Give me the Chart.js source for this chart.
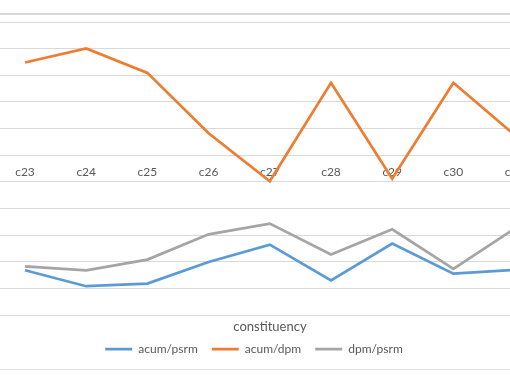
<!DOCTYPE html>
<html>
<head>
<meta charset="utf-8">
<script src="https://cdn.jsdelivr.net/npm/chart.js@4"></script>
<style>
  html, body { margin: 0; padding: 0; background: #ffffff; overflow: hidden; }
  #wrap { position: relative; width: 510px; height: 382px; overflow: hidden; background: #fff; }
  #frame { position: absolute; left: 0; top: 13px; width: 510px; height: 354px;
           border-top: 2px solid #d9d9d9; border-bottom: 1px solid #e3e3e3; }
  #c { position: absolute; left: -32px; top: 0; }
</style>
</head>
<body>
<div id="wrap">
  <div id="frame"></div>
  <canvas id="c" width="572" height="382"></canvas>
</div>
<script>
const categories = ['c23', 'c24', 'c25', 'c26', 'c27', 'c28', 'c29', 'c30', 'c31'];
const acumPsrm = [-4.32, -4.92, -4.82, -4.01, -3.36, -4.70, -3.32, -4.45, -4.31];
const acumDpm  = [3.48, 4.01, 3.09, 0.82, -0.98, 2.72, -0.88, 2.72, 0.76];
const dpmPsrm  = [-4.17, -4.32, -3.92, -2.97, -2.57, -3.73, -2.78, -4.27, -2.76];
const seriesNames = ['acum/psrm', 'acum/dpm', 'dpm/psrm'];
const seriesColors = ['#5B9BD5', '#ED7D31', '#A5A5A5'];
const xTitle = 'constituency';

const toPoints = vals => vals.map((v, i) => ({ x: i, y: v }));
const allSeries = [acumPsrm, acumDpm, dpmPsrm];

const datasets = allSeries.map((vals, k) => ({
  label: seriesNames[k],
  data: toPoints(vals),
  borderColor: seriesColors[k],
  backgroundColor: seriesColors[k],
  borderWidth: 2.75,
  pointRadius: 0,
  pointHoverRadius: 0,
  tension: 0,
  fill: false
}));

const textColor = '#595959';
const fontFamily = 'Lato, "Open Sans", sans-serif';

new Chart(document.getElementById('c'), {
  type: 'line',
  data: { datasets },
  options: {
    responsive: false,
    animation: false,
    layout: { padding: { top: 22, bottom: 16.8, left: 0, right: 0 } },
    scales: {
      x: {
        type: 'linear',
        position: { y: 0 },
        min: -0.4085,
        max: 8.415,
        grid: { display: false, drawTicks: false },
        border: { display: false },
        afterBuildTicks: s => { s.ticks = categories.map((c, i) => ({ value: i })); },
        ticks: {
          autoSkip: false,
          maxRotation: 0,
          padding: 10,
          color: textColor,
          font: { family: fontFamily, size: 12 },
          callback: v => (Number.isInteger(v) && categories[v] !== undefined) ? categories[v] : ''
        }
      },
      y: {
        position: 'left',
        min: -6,
        max: 5,
        ticks: { display: false, stepSize: 1 },
        grid: { color: '#d9d9d9', lineWidth: 1, drawTicks: false },
        border: { display: false },
        afterFit: s => { s.width = 32; }
      }
    },
    plugins: {
      tooltip: { enabled: false },
      title: {
        display: true,
        text: xTitle,
        position: 'bottom',
        fullSize: false,
        weight: 500,
        color: textColor,
        font: { family: fontFamily, size: 13, weight: 'normal' },
        padding: { top: 4.3, bottom: -5.7 }
      },
      legend: {
        position: 'bottom',
        labels: {
          color: textColor,
          font: { family: fontFamily, size: 12 },
          usePointStyle: true,
          pointStyle: 'line',
          pointStyleWidth: 27,
          boxHeight: 12,
          padding: 14
        }
      }
    }
  }
});
</script>
</body>
</html>
